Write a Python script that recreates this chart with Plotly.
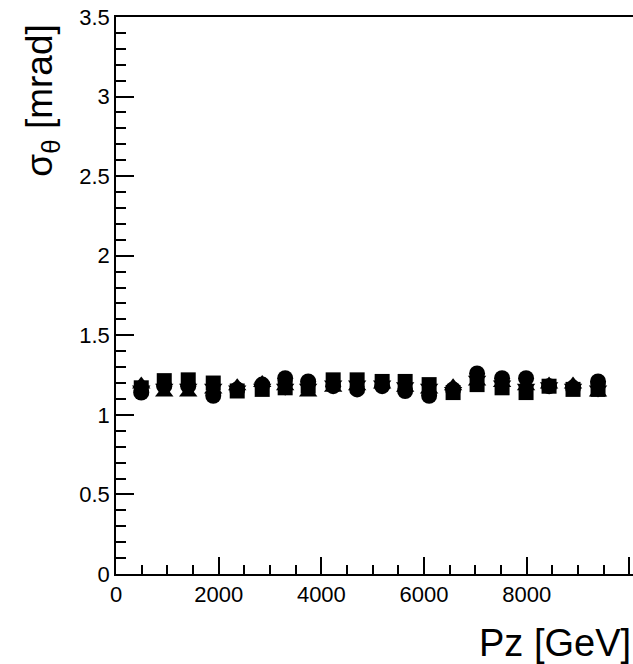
import plotly.graph_objects as go

pz = [492, 940, 1407, 1894, 2361, 2848, 3295, 3743, 4230, 4697,
      5184, 5632, 6099, 6566, 7033, 7520, 7987, 8435, 8902, 9389]
sig_circle = [1.14, 1.18, 1.18, 1.12, 1.16, 1.19, 1.23, 1.21, 1.18, 1.16,
              1.18, 1.15, 1.12, 1.16, 1.26, 1.23, 1.23, 1.18, 1.17, 1.21]
sig_square = [1.17, 1.215, 1.22, 1.20, 1.15, 1.16, 1.17, 1.18, 1.22, 1.22,
              1.21, 1.21, 1.19, 1.14, 1.19, 1.17, 1.14, 1.18, 1.16, 1.16]
sig_triup = [1.19, 1.14, 1.14, 1.16, 1.18, 1.20, 1.18, 1.14, 1.17, 1.18,
             1.19, 1.17, 1.16, 1.18, 1.21, 1.20, 1.18, 1.19, 1.19, 1.14]
sig_tridown = [1.16, 1.17, 1.17, 1.17, 1.16, 1.17, 1.17, 1.17, 1.19, 1.19,
               1.19, 1.18, 1.17, 1.15, 1.22, 1.19, 1.17, 1.18, 1.17, 1.16]

series = [
    ("circle", sig_circle, 16),
    ("square", sig_square, 15),
    ("triangle-up", sig_triup, 16),
    ("triangle-down", sig_tridown, 16),
]

fig = go.Figure()
for sym, vals, sz in series:
    fig.add_trace(go.Scatter(
        x=pz, y=vals, mode="markers",
        marker=dict(symbol=sym, size=sz, color="black", line=dict(width=0)),
        showlegend=False,
    ))

font_family = "Liberation Sans, Arial, sans-serif"

fig.update_layout(
    width=633, height=664,
    margin=dict(l=116, r=0, t=17, b=90),
    paper_bgcolor="white", plot_bgcolor="white",
    font=dict(family=font_family, color="black"),
    xaxis=dict(
        range=[0, 10070], showgrid=False, zeroline=False,
        showline=True, linecolor="black", linewidth=1.5, mirror=True,
        ticks="inside", ticklen=17, tickwidth=1.5, tickcolor="black",
        tick0=0, dtick=2000, tickformat="d", tickfont=dict(size=22, family=font_family),
        minor=dict(ticks="inside", ticklen=9, tickwidth=1.5, tickcolor="black", dtick=500, showgrid=False),
    ),
    yaxis=dict(
        range=[0, 3.5], showgrid=False, zeroline=False,
        showline=True, linecolor="black", linewidth=1.5, mirror=False,
        ticks="inside", ticklen=18, tickwidth=1.5, tickcolor="black",
        tick0=0, dtick=0.5, tickfont=dict(size=22, family=font_family),
        minor=dict(ticks="inside", ticklen=10, tickwidth=1.5, tickcolor="black", dtick=0.1, showgrid=False),
    ),
    annotations=[
        dict(text="Pz [GeV]", xref="paper", yref="paper", x=1.0, y=-0.123,
             xanchor="right", yanchor="middle", showarrow=False,
             font=dict(size=38, family=font_family, color="black")),
        dict(text="σ<sub>θ</sub> [mrad]", xref="paper", yref="paper", x=-0.143, y=0.99,
             xanchor="center", yanchor="top", textangle=-90, showarrow=False,
             font=dict(size=37, family=font_family, color="black")),
    ],
)

fig.write_html("out.html")
